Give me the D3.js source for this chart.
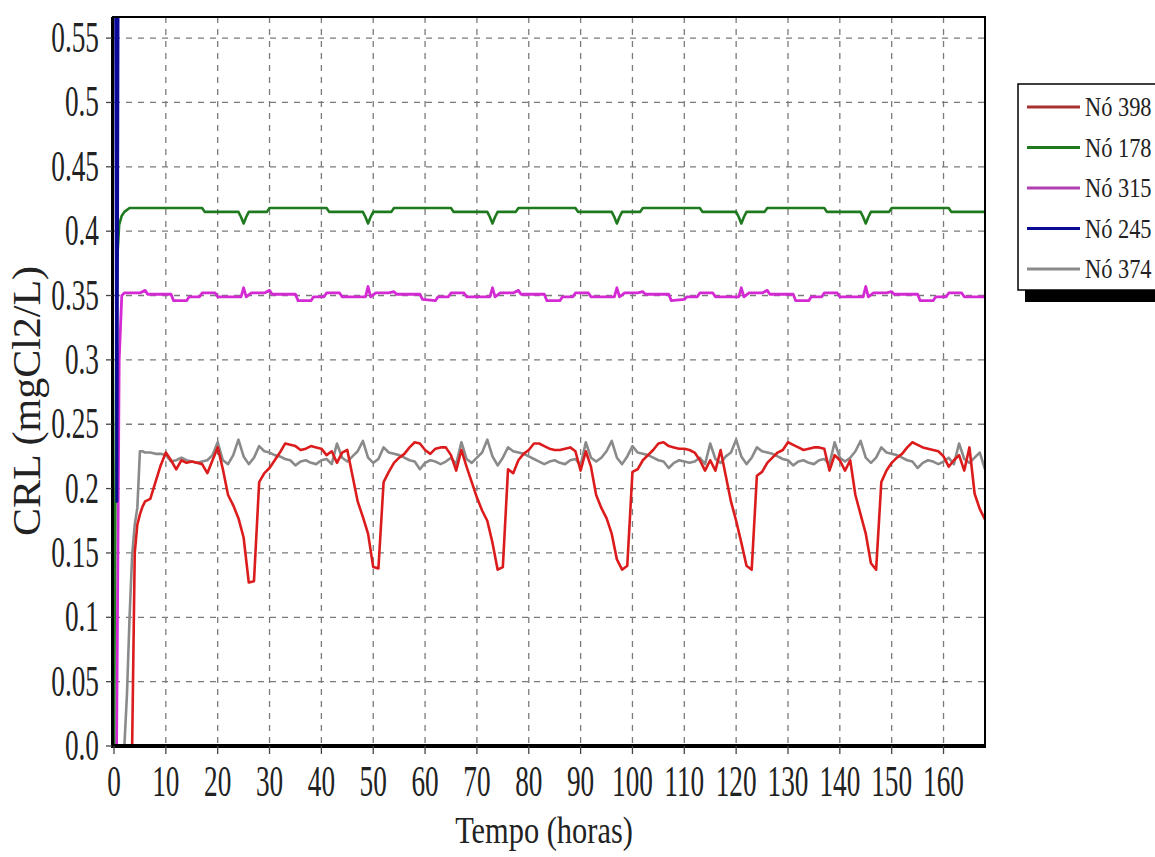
<!DOCTYPE html>
<html><head><meta charset="utf-8">
<script src="https://cdn.jsdelivr.net/npm/d3@7"></script>
<style>body{margin:0;background:#fff}svg{display:block}</style>
</head><body><svg id="c" width="1155" height="857"></svg>
<script>
// ---------- DATA ----------
const seriesNames = ["Nó 398", "Nó 178", "Nó 315", "Nó 245", "Nó 374"];
const xTicks = [0,10,20,30,40,50,60,70,80,90,100,110,120,130,140,150,160];
const yTicks = [0,0.05,0.1,0.15,0.2,0.25,0.3,0.35,0.4,0.45,0.5,0.55];
const yTickLabels = ["0.0","0.05","0.1","0.15","0.2","0.25","0.3","0.35","0.4","0.45","0.5","0.55"];
const xTitle = "Tempo (horas)";
const yTitle = "CRL (mgCl2/L)";

// shared hourly time axis for Nó 398 and Nó 374
const hours = [0,0.5,1,1.5,2,2.5,3,3.5,4,4.5,5,5.5,6].concat(d3.range(7,169));

const no398 = [0,0,0,0,0,0,0,0,0.15,0.172,0.18,0.186,0.19,
 0.192,0.205,0.218,0.228,0.222,0.215,0.222,0.22,0.221,0.22,0.219,0.212,0.222,0.232,0.215,0.195,0.187,
 0.177,0.162,0.127,0.128,0.205,0.212,0.216,0.222,0.228,0.235,0.234,0.233,0.23,0.231,0.233,0.232,0.231,0.226,0.229,0.22,0.228,0.23,0.21,0.19,
 0.178,0.165,0.139,0.138,0.205,0.213,0.22,0.224,0.227,0.232,0.236,0.235,0.23,0.227,0.231,0.232,0.232,0.226,0.214,0.23,0.217,0.205,0.193,0.183,
 0.175,0.158,0.137,0.139,0.215,0.212,0.222,0.227,0.23,0.235,0.235,0.233,0.231,0.23,0.23,0.231,0.232,0.229,0.214,0.229,0.217,0.195,0.185,0.177,
 0.165,0.145,0.137,0.14,0.213,0.215,0.222,0.226,0.23,0.235,0.236,0.233,0.232,0.231,0.231,0.23,0.228,0.222,0.214,0.222,0.214,0.23,0.21,0.19,
 0.175,0.158,0.14,0.137,0.21,0.213,0.22,0.224,0.228,0.23,0.236,0.234,0.232,0.23,0.231,0.232,0.232,0.231,0.214,0.226,0.222,0.214,0.222,0.195,
 0.18,0.165,0.142,0.137,0.205,0.214,0.22,0.224,0.227,0.232,0.236,0.234,0.232,0.231,0.23,0.229,0.225,0.217,0.222,0.226,0.214,0.232,0.196,0.184,
 0.176];

const no374 = [0,0,0,0,0,0.04,0.1,0.148,0.172,0.185,0.229,0.229,0.228,
 0.228,0.227,0.227,0.226,0.221,0.222,0.224,0.222,0.221,0.22,0.221,0.222,0.226,0.236,0.222,0.219,0.226,
 0.238,0.225,0.219,0.224,0.233,0.229,0.228,0.226,0.225,0.223,0.222,0.218,0.221,0.222,0.22,0.219,0.222,0.223,0.219,0.235,0.224,0.221,0.225,0.229,
 0.237,0.224,0.22,0.223,0.232,0.228,0.227,0.226,0.224,0.222,0.221,0.215,0.22,0.222,0.221,0.219,0.221,0.224,0.219,0.236,0.223,0.22,0.224,0.228,
 0.238,0.225,0.218,0.224,0.232,0.229,0.228,0.227,0.225,0.223,0.221,0.219,0.221,0.222,0.22,0.219,0.222,0.223,0.218,0.236,0.224,0.221,0.224,0.229,
 0.237,0.224,0.219,0.225,0.233,0.228,0.227,0.226,0.224,0.222,0.221,0.216,0.22,0.222,0.221,0.22,0.221,0.224,0.219,0.235,0.223,0.22,0.225,0.228,
 0.238,0.225,0.219,0.224,0.232,0.229,0.228,0.227,0.225,0.223,0.222,0.218,0.221,0.222,0.22,0.219,0.222,0.223,0.219,0.236,0.224,0.221,0.224,0.229,
 0.237,0.224,0.22,0.224,0.232,0.228,0.227,0.226,0.224,0.222,0.221,0.216,0.22,0.222,0.221,0.219,0.221,0.224,0.219,0.235,0.223,0.22,0.224,0.228,
 0.215];

const no178Hours = [0,0.5,1,1.5,2,3,17,17.5,
 24,24.5,25,25.5,26,29.5,30,41,41.5,
 48,48.5,49,49.5,50,53.5,54,65,65.5,
 72,72.5,73,73.5,74,77.5,78,89,89.5,
 96,96.5,97,97.5,98,101.5,102,113,113.5,
 120,120.5,121,121.5,122,125.5,126,137,137.5,
 144,144.5,145,145.5,146,149.5,150,161,161.5,
 168];
const no178 = [0,0.37,0.405,0.412,0.415,0.418,0.418,0.415,
 0.415,0.411,0.406,0.411,0.415,0.415,0.418,0.418,0.415,
 0.415,0.411,0.406,0.411,0.415,0.415,0.418,0.418,0.415,
 0.415,0.411,0.406,0.411,0.415,0.415,0.418,0.418,0.415,
 0.415,0.411,0.406,0.411,0.415,0.415,0.418,0.418,0.415,
 0.415,0.411,0.406,0.411,0.415,0.415,0.418,0.418,0.415,
 0.415,0.411,0.406,0.411,0.415,0.415,0.418,0.418,0.415,
 0.415];

const no315Hours = [0,0.5,1,1.5,2,5,6,6.5,11,11.5,14,14.5,16.5,17,19.5,20,
 24.5,25,25.5,26.5,29,30,30.5,35,35.5,38,38.5,40.5,41,43.5,44,
 48.5,49,49.5,50.5,53,54,54.5,59,59.5,62,62.5,64.5,65,67.5,68,
 72.5,73,73.5,74.5,77,78,78.5,83,83.5,86,86.5,88.5,89,91.5,92,
 96.5,97,97.5,98.5,101,102,102.5,107,107.5,110,110.5,112.5,113,115.5,116,
 120.5,121,121.5,122.5,125,126,126.5,131,131.5,134,134.5,136.5,137,139.5,140,
 144.5,145,145.5,146.5,149,150,150.5,155,155.5,158,158.5,160.5,161,163.5,164,
 168];
const no315 = [0,0,0.3,0.35,0.352,0.352,0.354,0.351,0.351,0.346,0.346,0.349,0.349,0.352,0.352,0.349,
 0.349,0.356,0.349,0.352,0.352,0.354,0.351,0.351,0.346,0.346,0.349,0.349,0.352,0.352,0.349,
 0.349,0.357,0.349,0.352,0.352,0.353,0.351,0.351,0.347,0.346,0.349,0.349,0.352,0.352,0.349,
 0.349,0.356,0.349,0.352,0.352,0.354,0.351,0.351,0.346,0.346,0.349,0.349,0.352,0.352,0.349,
 0.349,0.356,0.349,0.352,0.352,0.353,0.351,0.351,0.346,0.347,0.349,0.349,0.352,0.352,0.349,
 0.349,0.356,0.349,0.352,0.352,0.354,0.351,0.351,0.346,0.346,0.349,0.349,0.352,0.352,0.349,
 0.349,0.357,0.349,0.352,0.352,0.353,0.351,0.351,0.346,0.346,0.349,0.349,0.352,0.352,0.349,
 0.349];

const no245Hours = [0,0.25,0.55,0.85,168];
const no245 = [0.7,0.7,0.19,0.7,0.7];

const colors = ["#dc1c1c","#1f7a1f","#d42ad4","#0a0a96","#8a8a8a"];
const legendColors = ["#a83232","#1f7a1f","#b040b0","#0a0a96","#8a8a8a"];

// ---------- CHART ----------
const svg = d3.select("#c");
const X0 = 114, X1 = 985, Y0 = 746, Y1 = 17;
const x = d3.scaleLinear().domain([0,168]).range([X0, X1]);
const y = d3.scaleLinear().domain([0,0.5664]).range([Y0, Y1]);
const serif = "'Liberation Serif','Times New Roman',serif";

// grid
const grid = svg.append("g").attr("stroke","#7a7a7a").attr("stroke-width",1.3).attr("stroke-dasharray","6,6");
xTicks.filter(d=>d>0).forEach(d=>{
  grid.append("line").attr("x1",x(d)).attr("x2",x(d)).attr("y1",Y1).attr("y2",Y0);
});
yTicks.filter(d=>d>0).forEach(d=>{
  grid.append("line").attr("x1",X0).attr("x2",X1).attr("y1",y(d)).attr("y2",y(d));
});

// clip
svg.append("defs").append("clipPath").attr("id","pc").append("rect")
  .attr("x",X0-1).attr("y",Y1).attr("width",X1-X0+1).attr("height",Y0-Y1);

const series = [
  {h: hours, v: no398},
  {h: no178Hours, v: no178},
  {h: no315Hours, v: no315},
  {h: no245Hours, v: no245},
  {h: hours, v: no374}
];
const line = d3.line().x(d=>x(d[0])).y(d=>y(d[1]));
const lg = svg.append("g").attr("clip-path","url(#pc)");
const order = [2,1,4,0,3];
const widths = [2.6,2.6,2.8,3,2.6];
order.forEach(i=>{
  const s = series[i];
  const pts = s.h.map((t,k)=>[t, s.v[k]]);
  lg.append("path").attr("d",line(pts)).attr("fill","none")
    .attr("stroke",colors[i]).attr("stroke-width",widths[i]).attr("stroke-linejoin","round");
});

// frame
svg.append("rect").attr("x",113).attr("y",Y1).attr("width",X1-113).attr("height",Y0-Y1)
  .attr("fill","none").attr("stroke","#000").attr("stroke-width",2);
svg.append("line").attr("x1",112.5).attr("x2",112.5).attr("y1",Y1).attr("y2",Y0+2)
  .attr("stroke","#000").attr("stroke-width",3);
svg.append("line").attr("x1",111).attr("x2",X1+1).attr("y1",Y0).attr("y2",Y0)
  .attr("stroke","#000").attr("stroke-width",4);

// ticks
const tk = svg.append("g").attr("stroke","#444").attr("stroke-width",1.3);
yTicks.forEach(d=>tk.append("line").attr("x1",106).attr("x2",112).attr("y1",y(d)).attr("y2",y(d)));
xTicks.forEach(d=>tk.append("line").attr("x1",x(d)).attr("x2",x(d)).attr("y1",Y0).attr("y2",Y0+8));

// y tick labels
yTicks.forEach((d,i)=>{
  svg.append("text").attr("transform",`translate(99,${y(d)+14}) scale(0.62,1)`)
    .attr("text-anchor","end").attr("font-family",serif).attr("font-size",44)
    .attr("fill","#222").text(yTickLabels[i]);
});
// x tick labels
xTicks.forEach(d=>{
  svg.append("text").attr("transform",`translate(${x(d)},796) scale(0.62,1)`)
    .attr("text-anchor","middle").attr("font-family",serif).attr("font-size",44)
    .attr("fill","#222").text(d);
});
// titles
svg.append("text").attr("transform",`translate(544,843) scale(0.8,1)`)
  .attr("text-anchor","middle").attr("font-family",serif).attr("font-size",38)
  .attr("fill","#222").text(xTitle);
svg.append("text").attr("transform",`translate(40,401) rotate(-90) scale(1.05,1)`)
  .attr("text-anchor","middle").attr("font-family",serif).attr("font-size",40)
  .attr("fill","#222").text(yTitle);

// legend
const L = svg.append("g");
L.append("rect").attr("x",1025).attr("y",289).attr("width",140).attr("height",13).attr("fill","#000");
L.append("rect").attr("x",1018).attr("y",84).attr("width",150).attr("height",206)
  .attr("fill","#fff").attr("stroke","#000").attr("stroke-width",1.5);
seriesNames.forEach((n,i)=>{
  const yy = 107 + i*40.5;
  L.append("line").attr("x1",1027).attr("x2",1080).attr("y1",yy).attr("y2",yy)
    .attr("stroke",legendColors[i]).attr("stroke-width",3);
  L.append("text").attr("transform",`translate(1085,${yy+9}) scale(0.8,1)`)
    .attr("font-family",serif).attr("font-size",28).attr("fill","#222").text(n);
});
</script></body></html>
